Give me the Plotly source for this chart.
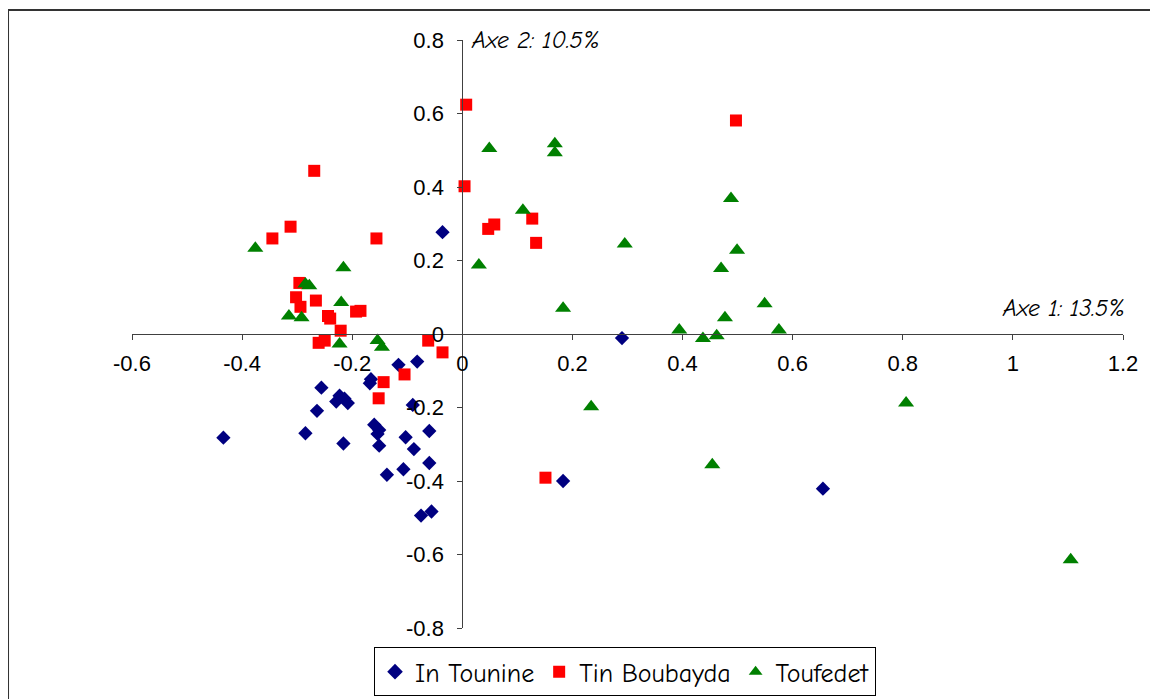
import plotly.graph_objects as go

# In Tounine (blue diamonds)
tounine_x = [-0.036, -0.434, -0.285, -0.256, -0.264, -0.216, -0.223, -0.229, -0.208, -0.214,
             -0.166, -0.168, -0.160, -0.151, -0.154, -0.151, -0.137, -0.116, -0.082, -0.090,
             -0.103, -0.088, -0.060, -0.107, -0.060, -0.075, -0.056, 0.290, 0.183, 0.655]
tounine_y = [0.277, -0.282, -0.270, -0.146, -0.209, -0.298, -0.168, -0.184, -0.188, -0.176,
             -0.123, -0.134, -0.247, -0.261, -0.272, -0.304, -0.383, -0.084, -0.075, -0.193,
             -0.281, -0.313, -0.264, -0.368, -0.351, -0.494, -0.483, -0.011, -0.400, -0.421]

# Tin Boubayda (red squares)
boubayda_x = [-0.269, -0.312, -0.345, -0.156, 0.004, -0.296, -0.302, -0.294, -0.266, -0.244,
              -0.240, -0.193, -0.185, -0.221, -0.261, -0.250, -0.062, -0.036, -0.143, -0.152,
              -0.105, 0.151, 0.007, 0.047, 0.058, 0.127, 0.134, 0.497]
boubayda_y = [0.444, 0.292, 0.260, 0.260, 0.402, 0.139, 0.100, 0.074, 0.091, 0.049,
              0.042, 0.061, 0.063, 0.009, -0.024, -0.018, -0.018, -0.050, -0.131, -0.175,
              -0.110, -0.391, 0.624, 0.286, 0.298, 0.314, 0.248, 0.581]

# Toufedet (green triangles)
toufedet_x = [-0.376, -0.216, -0.285, -0.278, -0.220, -0.315, -0.292, -0.223, -0.154, -0.146,
              0.030, 0.049, 0.168, 0.168, 0.110, 0.295, 0.183, 0.488, 0.499, 0.470,
              0.549, 0.477, 0.575, 0.394, 0.437, 0.462, 0.234, 0.454, 0.806, 1.105]
toufedet_y = [0.233, 0.180, 0.136, 0.131, 0.086, 0.049, 0.044, -0.027, -0.018, -0.036,
              0.188, 0.505, 0.518, 0.493, 0.337, 0.245, 0.070, 0.369, 0.228, 0.178,
              0.082, 0.044, 0.011, 0.011, -0.012, -0.005, -0.198, -0.356, -0.188, -0.614]

x_ticks = [-0.6, -0.4, -0.2, 0, 0.2, 0.4, 0.6, 0.8, 1, 1.2]
x_tick_text = ["-0.6", "-0.4", "-0.2", "0", "0.2", "0.4", "0.6", "0.8", "1", "1.2"]
y_ticks = [-0.8, -0.6, -0.4, -0.2, 0, 0.2, 0.4, 0.6, 0.8]
y_tick_text = ["-0.8", "-0.6", "-0.4", "-0.2", "0", "0.2", "0.4", "0.6", "0.8"]

x_range = [-0.6, 1.2]
y_range = [-0.8, 0.8]

COMIC = "Comic Sans MS, Comic Neue, Lato, sans-serif"
TICKFONT = dict(family="Liberation Sans, Arial, sans-serif", size=22, color="black")

fig = go.Figure()
fig.add_trace(go.Scatter(x=tounine_x, y=tounine_y, mode="markers", name="In Tounine",
                         marker=dict(symbol="diamond", size=11, color="#000080")))
fig.add_trace(go.Scatter(x=boubayda_x, y=boubayda_y, mode="markers", name="Tin Boubayda",
                         marker=dict(symbol="square", size=12, color="#FF0000")))
fig.add_trace(go.Scatter(x=toufedet_x, y=toufedet_y, mode="markers", name="Toufedet",
                         marker=dict(symbol="triangle-up", size=14, color="#008000")))

x_cross = (0 - y_range[0]) / (y_range[1] - y_range[0])
y_cross = (0 - x_range[0]) / (x_range[1] - x_range[0])

fig.update_layout(
    width=1158, height=699,
    paper_bgcolor="white", plot_bgcolor="white",
    margin=dict(l=124, r=43, t=32, b=78),
    showlegend=True,
    legend=dict(orientation="h", x=0.4975, xanchor="center", y=-0.031, yanchor="top",
                font=dict(family=COMIC, size=26, color="black"),
                bordercolor="black", borderwidth=1, bgcolor="white",
                itemsizing="constant", tracegroupgap=0),
    xaxis=dict(range=x_range, tickvals=x_ticks, ticktext=x_tick_text,
               showgrid=False, zeroline=False, showline=True, linecolor="#404040",
               linewidth=1, ticks="outside", ticklen=5, tickcolor="#404040",
               tickfont=TICKFONT, anchor="free", position=x_cross,
               ticklabelstandoff=5),
    yaxis=dict(range=y_range, tickvals=y_ticks, ticktext=y_tick_text,
               showgrid=False, zeroline=False, showline=True, linecolor="#404040",
               linewidth=1, ticks="outside", ticklen=5, tickcolor="#404040",
               tickfont=TICKFONT, anchor="free", position=y_cross,
               ticklabelstandoff=9),
    annotations=[
        dict(text="Axe 2: 10.5%", xref="x", yref="y", x=0.012, y=0.8,
             xanchor="left", yanchor="middle", showarrow=False,
             font=dict(family=COMIC, size=24, color="black", style="italic")),
        dict(text="Axe 1: 13.5%", xref="paper", yref="y", x=1.004, y=0.07,
             xanchor="right", yanchor="middle", showarrow=False,
             font=dict(family=COMIC, size=24, color="black", style="italic")),
    ],
    shapes=[
        dict(type="rect", xref="paper", yref="paper", x0=-0.1251, x1=1.06,
             y0=-0.2, y1=1.051, line=dict(color="#333333", width=2),
             fillcolor="rgba(0,0,0,0)", layer="below"),
    ],
)

fig.write_html("out.html")
